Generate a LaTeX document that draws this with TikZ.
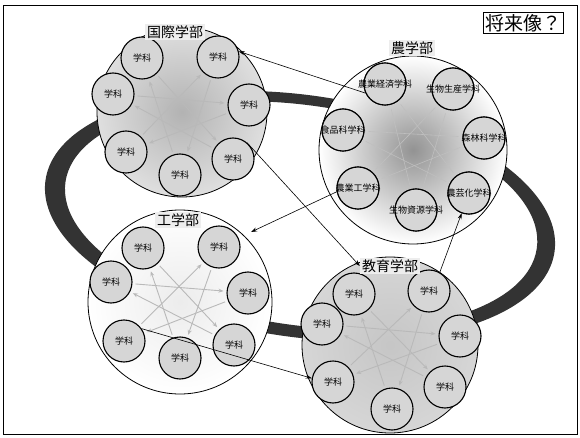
\documentclass[tikz,border=0pt]{standalone}
\usepackage{fontspec}
\newfontfamily\jp{Noto Sans CJK JP}
\usetikzlibrary{arrows.meta}
\begin{document}
\begin{tikzpicture}[x=1pt,y=-1pt,
  smallc/.style={circle, draw, line width=1.1pt, fill=gray!32, minimum size=42pt, inner sep=0pt, font=\jp\fontsize{9}{10}\selectfont},
  bigc/.style={draw, line width=0.8pt},
  blabel/.style={fill=gray!14, inner sep=2pt, font=\jp\fontsize{14}{15}\selectfont},
  flow/.style={line width=0.6pt, -{Stealth[length=6pt,width=4pt]}},
  inner/.style={draw=gray!55, line width=0.9pt, -{Stealth[length=5pt,width=4pt]}, shorten >=3pt, shorten <=3pt},
  nlab/.style={font=\jp\fontsize{9}{10}\selectfont}
]
\useasboundingbox (0,0) rectangle (580,438);
\fill[white] (0,0) rectangle (580,438);
\draw[line width=0.8pt] (3,5) rectangle (577,434);

% ring
\fill[black!80, even odd rule]
  [shift={(300,216)}, rotate=-8] (0,0) ellipse [x radius=257pt, y radius=121pt]
  [shift={(1,-1)}] (0,0) ellipse [x radius=238pt, y radius=110pt];

% big circles
\shade[inner color=gray!60, outer color=gray!25] (182,112) circle [radius=85pt];
\draw[bigc] (182,112) circle [radius=85pt];
\shade[inner color=gray!85, outer color=white] (413,150) circle [radius=94pt];
\draw[bigc] (413,150) circle [radius=94pt];
\shade[inner color=gray!15, outer color=white] (180,302) circle [radius=92pt];
\draw[bigc] (180,302) circle [radius=92pt];
\shade[inner color=gray!45, outer color=gray!32] (390,345) circle [radius=88pt];
\draw[bigc] (390,345) circle [radius=88pt];

% small circles: 国際学部
\node[smallc] (k1) at (142,58) {学科};
\node[smallc] (k2) at (218,57) {学科};
\node[smallc] (k3) at (249,105) {学科};
\node[smallc] (k4) at (233,159) {学科};
\node[smallc] (k5) at (180,175) {学科};
\node[smallc] (k6) at (126,152) {学科};
\node[smallc] (k7) at (113,94) {学科};
% 農学部
\node[smallc] (n1) at (385,84) {};
\node[smallc] (n2) at (453,89) {};
\node[smallc] (n3) at (484,138) {};
\node[smallc] (n4) at (469,193) {};
\node[smallc] (n5) at (416,210) {};
\node[smallc] (n6) at (358,188) {};
\node[smallc] (n7) at (343,130) {};
% 工学部
\node[smallc] (e1) at (143,248) {学科};
\node[smallc] (e2) at (219,247) {学科};
\node[smallc] (e3) at (248,293) {学科};
\node[smallc] (e4) at (234,345) {学科};
\node[smallc] (e5) at (180,358) {学科};
\node[smallc] (e6) at (124,341) {学科};
\node[smallc] (e7) at (111,282) {学科};
% 教育学部
\node[smallc] (t1) at (354,294) {学科};
\node[smallc] (t2) at (429,291) {学科};
\node[smallc] (t3) at (460,336) {学科};
\node[smallc] (t4) at (445,387) {学科};
\node[smallc] (t5) at (392,409) {学科};
\node[smallc] (t6) at (333,382) {学科};
\node[smallc] (t7) at (322,324) {学科};

% internal star connectors
\foreach \p in {k,e,t}{
  \foreach \i/\j in {1/4,2/5,3/6,4/7,5/1,6/2,7/3}{
    \draw[inner] (\p\i) -- (\p\j);
  }
}
\foreach \i/\j in {1/4,2/5,3/6,4/7,5/1,6/2,7/3}{
  \draw[draw=gray!50, line width=0.6pt, shorten >=4pt, shorten <=4pt] (n\i) -- (n\j);
}
% 農学部 labels
\foreach \n/\t in {n1/農業経済学科, n2/生物生産学科, n3/森林科学科, n4/農芸化学科, n5/生物資源学科, n6/農業工学科, n7/食品科学科}{
  \node[smallc] at (\n) {};
  \node[nlab] at (\n) {\t};
}

% big labels
\node[blabel] (lk) at (175,32) {国際学部};
\node[blabel] (ln) at (412,48) {農学部};
\node[blabel] (le) at (178,220) {工学部};
\node[blabel] (lt) at (390,266) {教育学部};

\node[draw, line width=0.8pt, inner sep=2pt, font=\jp\fontsize{19}{20}\selectfont] (fut) at (523,23) {将来像？};

% connectors between faculties
\coordinate (eIn) at (251,232);
\draw[flow] (n1.205) -- (k2.15);
\draw[flow] (k4.50) -- (lt.west);
\draw[flow] (n6.190) -- (eIn);
\draw[flow] (e6.35) -- (t6.170);
\draw[flow] (t2.60) -- (n4.250);
\end{tikzpicture}
\end{document}
